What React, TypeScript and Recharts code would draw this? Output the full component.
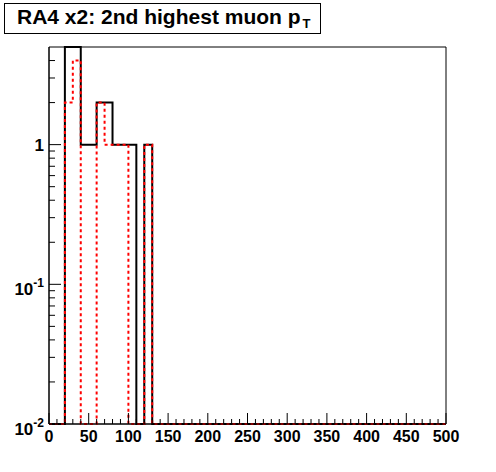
import { LineChart, Line, XAxis, YAxis, ReferenceArea } from 'recharts'

// lower edge of each 10 GeV bin
const binLow = [
  0, 10, 20, 30, 40, 50, 60, 70, 80, 90,
  100, 110, 120, 130, 140, 150, 160, 170, 180, 190,
  200, 210, 220, 230, 240, 250, 260, 270, 280, 290,
  300, 310, 320, 330, 340, 350, 360, 370, 380, 390,
  400, 410, 420, 430, 440, 450, 460, 470, 480, 490,
]

// entries per bin, black (solid) histogram
const blackCounts = [
  0, 0, 5, 5, 1, 1, 2, 2, 1, 1,
  1, 0, 1, 0, 0, 0, 0, 0, 0, 0,
  0, 0, 0, 0, 0, 0, 0, 0, 0, 0,
  0, 0, 0, 0, 0, 0, 0, 0, 0, 0,
  0, 0, 0, 0, 0, 0, 0, 0, 0, 0,
]

// entries per bin, red (dotted) histogram
const redCounts = [
  0, 0, 2, 4, 0, 0, 2, 1, 1, 1,
  0, 0, 1, 0, 0, 0, 0, 0, 0, 0,
  0, 0, 0, 0, 0, 0, 0, 0, 0, 0,
  0, 0, 0, 0, 0, 0, 0, 0, 0, 0,
  0, 0, 0, 0, 0, 0, 0, 0, 0, 0,
]

const xMax = 500
const xMajor = [0, 50, 100, 150, 200, 250, 300, 350, 400, 450, 500]
const xTicks = [...binLow, xMax]

const yMin = 0.01
const yMax = 5
const yTicks = [
  0.01, 0.02, 0.03, 0.04, 0.05, 0.06, 0.07, 0.08, 0.09,
  0.1, 0.2, 0.3, 0.4, 0.5, 0.6, 0.7, 0.8, 0.9,
  1, 2, 3, 4,
]
const yLabels: Record<string, [string, string]> = {
  '0.01': ['10', '-2'],
  '0.1': ['10', '-1'],
  '1': ['1', ''],
}

const FONT = '"Liberation Sans", Arial, Helvetica, sans-serif'

// empty bins sit on the bottom of the log axis, like ROOT draws them
const floor = (v: number) => (v > 0 ? v : yMin)

const chartData = [
  ...binLow.map((x, i) => ({ x, black: floor(blackCounts[i]), red: floor(redCounts[i]) })),
  {
    x: xMax,
    black: floor(blackCounts[blackCounts.length - 1]),
    red: floor(redCounts[redCounts.length - 1]),
  },
]

const renderXTick = (props: any) => {
  const { x, y, payload } = props
  const v = payload.value
  const major = xMajor.includes(v)
  return (
    <g key={`xt-${v}`}>
      <line x1={x} y1={y} x2={x} y2={y - (major ? 11 : 5)} stroke="#000" strokeWidth={1} />
      {major && (
        <text x={x} y={y + 18} textAnchor="middle" fontFamily={FONT} fontWeight="bold" fontSize={16} fill="#000">
          {v}
        </text>
      )}
    </g>
  )
}

const renderYTick = (props: any) => {
  const { x, y, payload } = props
  const v = payload.value
  const lab = yLabels[String(v)]
  return (
    <g key={`yt-${v}`}>
      <line x1={x} y1={y} x2={x + (lab ? 12 : 6)} y2={y} stroke="#000" strokeWidth={1} />
      {lab && (
        <text x={x - 5} y={y + (lab[1] ? 11 : 6)} textAnchor="end" fontFamily={FONT} fontWeight="bold" fontSize={17} fill="#000">
          {lab[0]}
          {lab[1] && (
            <tspan dy={-8} fontSize={12}>
              {lab[1]}
            </tspan>
          )}
        </text>
      )}
    </g>
  )
}

export default function App() {
  return (
    <div style={{ position: 'absolute', left: 0, top: 0, width: 496, height: 472, background: '#fff' }}>
      <LineChart
        width={496}
        height={472}
        data={chartData}
        margin={{ top: 47, right: 50, bottom: 18, left: 0 }}
      >
        <ReferenceArea x1={0} x2={xMax} y1={yMin} y2={yMax} fill="none" stroke="#000" strokeWidth={1} ifOverflow="visible" />
        <XAxis
          dataKey="x"
          type="number"
          domain={[0, xMax]}
          ticks={xTicks}
          interval={0}
          height={30}
          tickSize={0}
          tickMargin={0}
          axisLine={{ stroke: '#000' }}
          tick={renderXTick}
        />
        <YAxis
          type="number"
          scale="log"
          domain={[yMin, yMax]}
          ticks={yTicks}
          interval={0}
          width={49}
          tickSize={0}
          tickMargin={0}
          axisLine={{ stroke: '#000' }}
          tick={renderYTick}
        />
        <Line
          type="stepAfter"
          dataKey="black"
          stroke="#000"
          strokeWidth={2}
          dot={false}
          activeDot={false}
          isAnimationActive={false}
        />
        <Line
          type="stepAfter"
          dataKey="red"
          stroke="#ff0000"
          strokeWidth={2}
          strokeDasharray="3 3"
          dot={false}
          activeDot={false}
          isAnimationActive={false}
        />
      </LineChart>
      <svg width={496} height={40} style={{ position: 'absolute', left: 0, top: 0 }}>
        <rect x={4.5} y={3.5} width={316} height={30} fill="#fff" stroke="#000" strokeWidth={1} />
        <text x={17} y={24} fontFamily={FONT} fontWeight="bold" fontSize={21} fill="#000">
          RA4 x2: 2nd highest muon p
          <tspan dx={2} dy={4} fontSize={13}>T</tspan>
        </text>
      </svg>
    </div>
  )
}
